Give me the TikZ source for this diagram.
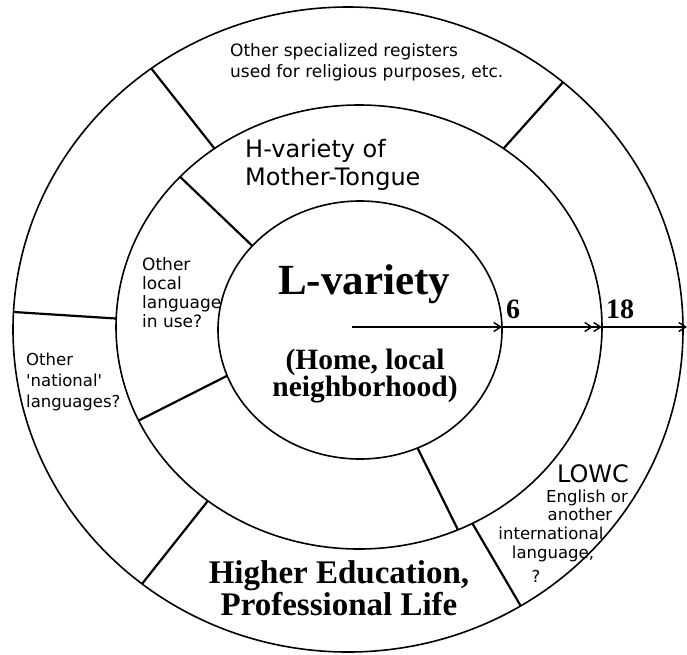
\documentclass[tikz,border=0pt]{standalone}
\usepackage{fontspec}
\setmainfont{Liberation Serif}
\newfontfamily\sansf{DejaVu Sans}
\usetikzlibrary{shapes.geometric,arrows.meta}
\begin{document}
\begin{tikzpicture}[x=1pt,y=-1pt,
  ring/.style={ellipse, draw, line width=1.6pt, inner sep=0pt, outer sep=0pt},
  spoke/.style={line width=2.2pt},
  arr/.style={line width=1.4pt},
  tipa/.style={-{Straight Barb[length=7pt,width=9pt,line width=1.4pt]}},
  tipb/.style={-{Straight Barb[length=7pt,width=9pt,line width=1.4pt] Straight Barb[length=7pt,width=9pt,line width=1.4pt]}},
  sanslbl/.style={inner sep=0pt, anchor=base west, align=left},
  seriflbl/.style={inner sep=0pt, anchor=base, align=center},
  lowc/.style={inner sep=0pt, anchor=base, font=\sansf\fontsize{16.5}{19}\selectfont}
]
\useasboundingbox (0,0) rectangle (687,654);
\fill[white] (0,0) rectangle (687,654);
% rings
\node[ring, minimum width=670pt, minimum height=645pt] (outer) at (348,329.5) {};
\node[ring, minimum width=486pt, minimum height=444pt] (middle) at (359,327) {};
\node[ring, minimum width=284pt, minimum height=258pt] (inner) at (360,330) {};
% spokes outer ring
\draw[spoke] (outer.127.7) -- (middle.129.4);
\draw[spoke] (outer.49.8) -- (middle.51.6);
\draw[spoke] (outer.177.5) -- (middle.178.6);
\draw[spoke] (middle.229.6) -- (outer.231.8);
\draw[spoke] (middle.300.6) -- (outer.302.7);
% spokes middle ring
\draw[spoke] (middle.140.2) -- (inner.142.1);
\draw[spoke] (middle.203) -- (inner.199.5);
\draw[spoke] (inner.296.2) -- (middle.296.6);
% age arrow
\coordinate (c0) at (352,327);
\coordinate (c6) at (502,327);
\coordinate (c18) at (602,327);
\coordinate (cend) at (687,327);
\draw[arr, tipa] (c0) -- (c6);
\draw[arr, tipb] (c6) -- (c18);
\draw[arr, tipa] (c18) -- (cend);
% serif labels (base anchor = baseline of last line)
\node[seriflbl, font=\bfseries\fontsize{43}{43}\selectfont] (lvar) at (364,294) {L-variety};
\node[seriflbl, font=\bfseries\fontsize{29.5}{27}\selectfont] (home) at (365,396) {(Home, local\\neighborhood)};
\node[seriflbl, font=\bfseries\fontsize{33}{32}\selectfont] (higher) at (339,615) {Higher Education,\\Professional Life};
\node[inner sep=0pt, anchor=base west, font=\bfseries\fontsize{28}{28}\selectfont] (six) at (506,318) {6};
\node[inner sep=0pt, anchor=base west, font=\bfseries\fontsize{28}{28}\selectfont] (eighteen) at (606,318) {18};
% sans labels
\node[sanslbl, font=\sansf\fontsize{17}{21}\selectfont] (regs) at (230,77) {Other specialized registers\\used for religious purposes, etc.};
\node[sanslbl, font=\sansf\fontsize{24}{28}\selectfont] (hvar) at (245,185) {H-variety of\\Mother-Tongue};
\node[sanslbl, font=\sansf\fontsize{17}{19}\selectfont] (loc) at (142,327) {Other\\local\\language\\in use?};
\node[sanslbl, font=\sansf\fontsize{16.5}{21}\selectfont] (nat) at (26,407) {Other\\\textquotesingle national\textquotesingle\\languages?};
% LOWC block
\node[lowc, font=\sansf\fontsize{24}{24}\selectfont] (lowcT) at (593,482) {LOWC};
\node[lowc] (lowc1) at (587,502) {English or};
\node[lowc] (lowc2) at (580,520) {another};
\node[lowc] (lowc3) at (551,539) {international};
\node[lowc] (lowc4) at (553,558) {language,};
\node[lowc] (lowc5) at (536,582) {?};
\end{tikzpicture}
\end{document}
